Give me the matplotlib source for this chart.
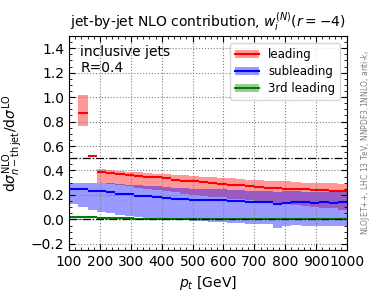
import numpy as np
import matplotlib
matplotlib.use('Agg')
import matplotlib.pyplot as plt
from matplotlib.patches import Patch
from matplotlib.lines import Line2D

# bin edges in pt [GeV]
edges = np.arange(100, 1001, 30)

# leading jet (first bin empty)
lead_edges = edges[1:]
lead_val = [0.87, 0.52,
            0.39, 0.38, 0.37, 0.36, 0.355, 0.35, 0.345, 0.335, 0.325, 0.315,
            0.31, 0.305, 0.295, 0.29, 0.285, 0.28, 0.27, 0.265, 0.26, 0.255,
            0.25, 0.25, 0.245, 0.24, 0.24, 0.235, 0.23]
lead_up = [1.02, 0.53,
           0.41, 0.40, 0.395, 0.39, 0.385, 0.38, 0.375, 0.37, 0.365, 0.36,
           0.355, 0.35, 0.345, 0.34, 0.335, 0.33, 0.325, 0.32, 0.315, 0.31,
           0.31, 0.305, 0.30, 0.30, 0.30, 0.295, 0.29]
lead_lo = [0.76, 0.51,
           0.30, 0.29, 0.28, 0.27, 0.26, 0.25, 0.24, 0.23, 0.22, 0.21,
           0.20, 0.19, 0.185, 0.18, 0.17, 0.165, 0.16, 0.15, 0.14, 0.135,
           0.13, 0.12, 0.11, 0.10, 0.095, 0.09, 0.08]

# subleading jet
sub_val = [0.25, 0.245, 0.235, 0.23, 0.22, 0.21, 0.205, 0.195, 0.19, 0.18,
           0.175, 0.17, 0.165, 0.16, 0.16, 0.155, 0.155, 0.15, 0.15, 0.145,
           0.145, 0.14, 0.13, 0.135, 0.14, 0.14, 0.135, 0.14, 0.135, 0.14]
sub_up = [0.30, 0.30, 0.30, 0.30, 0.295, 0.29, 0.285, 0.28, 0.275, 0.27,
          0.265, 0.26, 0.255, 0.25, 0.25, 0.245, 0.245, 0.24, 0.24, 0.235,
          0.235, 0.23, 0.225, 0.23, 0.23, 0.225, 0.225, 0.22, 0.22, 0.22]
sub_lo = [0.13, 0.10, 0.08, 0.06, 0.05, 0.04, 0.03, 0.02, 0.015, 0.01,
          0.005, 0.0, -0.005, -0.01, -0.015, -0.02, -0.025, -0.03, -0.03, -0.035,
          -0.04, -0.04, -0.07, -0.05, -0.045, -0.05, -0.05, -0.055, -0.055, -0.055]

# 3rd leading jet
third_val = [0.02, 0.018, 0.016, 0.014, 0.012, 0.01, 0.008, 0.006, 0.005, 0.004,
             0.003, 0.002, 0.001, 0.0, 0.0, 0.0, 0.0, 0.0, 0.0, 0.0,
             0.0, 0.0, 0.0, 0.0, 0.0, 0.0, 0.0, 0.0, 0.0, 0.0]
third_up = [v + 0.008 for v in third_val]
third_lo = [v - 0.008 for v in third_val]

series = [('leading', 'red', lead_edges, lead_val, lead_up, lead_lo),
          ('subleading', 'blue', edges, sub_val, sub_up, sub_lo),
          ('3rd leading', 'green', edges, third_val, third_up, third_lo)]

fig = plt.figure(figsize=(3.74, 2.99), dpi=100)
ax = fig.add_axes([0.1845, 0.164, 0.7435, 0.7156])

handles = []
for name, col, e, v, up, lo in series:
    ax.stairs(up, e, baseline=lo, fill=True, color=col, alpha=0.4, lw=0)
    ax.hlines(v, e[:-1], e[1:], colors=col, lw=1.5)
    handles.append((Patch(facecolor=col, alpha=0.4, lw=0),
                    Line2D([], [], color=col, lw=1.5)))

ax.axhline(0.5, color='black', ls='-.', lw=0.9)
ax.axhline(0.0, color='black', ls='-.', lw=0.9)

ax.set_xlim(100, 1000)
ax.set_ylim(-0.25, 1.5)
ax.set_xticks(np.arange(100, 1001, 100))
ax.set_yticks([-0.2, 0.0, 0.2, 0.4, 0.6, 0.8, 1.0, 1.2, 1.4])
ax.minorticks_on()
ax.tick_params(which='both', direction='in', top=True, right=True)
ax.tick_params(which='major', length=4)
ax.tick_params(which='minor', length=2)
ax.grid(True, which='major', ls=':', color='gray', lw=0.8)

ax.set_xlabel(r'$p_t$ [GeV]')
ax.set_ylabel(r'd$\sigma^{\rm NLO}_{n-{\rm th\,jet}}$/d$\sigma^{\rm LO}$')
ax.set_title(r'jet-by-jet NLO contribution, $w_i^{(N)}(r=-4)$', fontsize=10)

ax.text(0.04, 0.96, 'inclusive jets\nR=0.4', transform=ax.transAxes,
        va='top', ha='left', fontsize=10)
ax.legend(handles, [s[0] for s in series], loc='upper right', fontsize=8.5,
          handlelength=2.0, labelspacing=0.35, borderaxespad=0.6)

fig.text(0.976, 0.525, r'NLOJET++, LHC 13 TeV, NNPDF3.1NNLO, anti-$k_t$',
         rotation=90, ha='center', va='center', fontsize=5.5, color='gray')

fig.savefig('out.png', dpi=100)
